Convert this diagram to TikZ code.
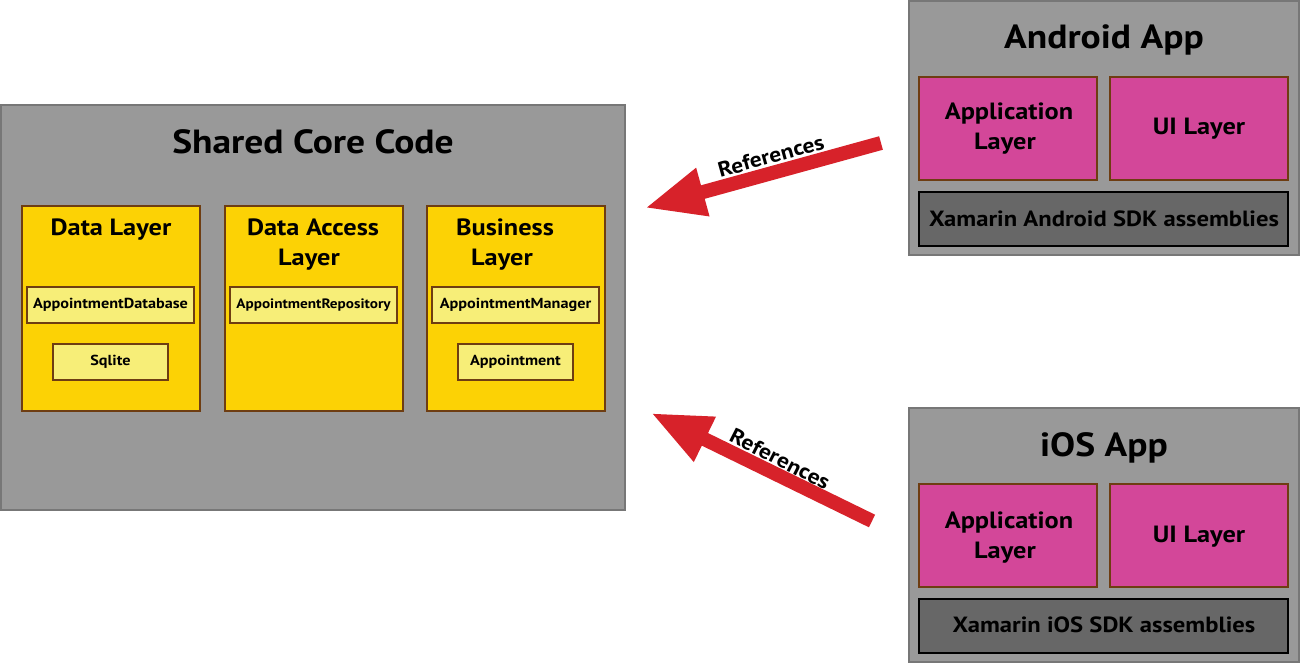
\documentclass[tikz,border=0pt]{standalone}
\usepackage{fontspec}
\setmainfont{PT Sans}[FakeStretch=1.12]
\usetikzlibrary{arrows.meta}
\definecolor{bggray}{HTML}{999999}
\definecolor{edgegray}{HTML}{777777}
\definecolor{ylw}{HTML}{FCD205}
\definecolor{lylw}{HTML}{F7EE78}
\definecolor{brn}{HTML}{6E3D12}
\definecolor{pnk}{HTML}{D34799}
\definecolor{dgray}{HTML}{676767}
\definecolor{arrred}{HTML}{D7222A}
\begin{document}
\begin{tikzpicture}[x=1pt,y=-1pt,
  every node/.style={inner sep=0pt, outer sep=0pt, font=\bfseries},
  panel/.style={draw=edgegray, line width=2pt, fill=bggray, anchor=north west},
  layerbox/.style={draw=brn, line width=2pt, fill=ylw, anchor=north west, minimum width=178, minimum height=205},
  classbox/.style={draw=brn, line width=2pt, fill=lylw, anchor=north west},
  classtext/.style={anchor=base, font=\bfseries\fontsize{14.5}{16}\selectfont},
  appbox/.style={draw=brn, line width=1.2pt, fill=pnk, anchor=north west, minimum width=178, minimum height=103},
  sdkbox/.style={draw=black, line width=1.5pt, fill=dgray, anchor=north west, minimum width=369, minimum height=54},
  sdktext/.style={anchor=base, font=\bfseries\fontsize{22}{24}\selectfont},
  bigtitle/.style={anchor=base, font=\bfseries\fontsize{33.5}{36}\selectfont},
  midtitle/.style={anchor=base, font=\bfseries\fontsize{23.5}{30}\selectfont},
  reflink/.style={draw=arrred, line width=14pt, -{Triangle[length=60pt,width=46pt]}},
  reflabel/.style={font=\bfseries\fontsize{21}{24}\selectfont}
]
\useasboundingbox (0,0) rectangle (1300,663);
\fill[white] (0,0) rectangle (1300,663);

% Shared core
\node[panel, minimum width=624, minimum height=405] (core) at (1,105) {};
\node[bigtitle] (coretitle) at (313,154) {Shared Core Code};

\node[layerbox] (dl) at (22,206) {};
\node[layerbox] (dal) at (225,206) {};
\node[layerbox] (bl) at (427,206) {};
\node[midtitle] (dlt) at (111,235) {Data Layer};
\node[midtitle] (dalt1) at (313,235) {Data Access};
\node[midtitle] (dalt2) at (309,265) {Layer};
\node[midtitle] (blt1) at (505,235) {Business};
\node[midtitle] (blt2) at (502,265) {Layer};

\node[classbox, minimum width=167, minimum height=36] (adb) at (27,287) {};
\node[classbox, minimum width=115, minimum height=36] (sql) at (53,344) {};
\node[classbox, minimum width=167, minimum height=36] (arep) at (230,287) {};
\node[classbox, minimum width=167, minimum height=36] (amgr) at (432,287) {};
\node[classbox, minimum width=115, minimum height=36] (appt) at (458,344) {};
\node[classtext] at ([yshift=-3.5pt]adb.center) {AppointmentDatabase};
\node[classtext] at ([yshift=-3.5pt]sql.center) {Sqlite};
\node[classtext, font=\bfseries\fontsize{13.6}{16}\selectfont] at ([yshift=-3.5pt]arep.center) {AppointmentRepository};
\node[classtext] at ([yshift=-3.5pt]amgr.center) {AppointmentManager};
\node[classtext] at ([yshift=-3.5pt]appt.center) {Appointment};

% Android
\node[panel, minimum width=390, minimum height=254] (android) at (909,1) {};
\node[bigtitle] (androidtitle) at (1104,49) {Android App};
\node[appbox] (aapp) at (919,77) {};
\node[appbox] (aui) at (1110,77) {};
\node[midtitle] at (1009,120) {Application};
\node[midtitle] at (1005,150) {Layer};
\node[midtitle] at (1199,135) {UI Layer};
\node[sdkbox] (asdk) at (919,192) {};
\node[sdktext] at (1104,226) {Xamarin Android SDK assemblies};

% iOS
\node[panel, minimum width=390, minimum height=254] (ios) at (909,408) {};
\node[bigtitle] (iostitle) at (1104,456) {iOS App};
\node[appbox] (iapp) at (919,484) {};
\node[appbox] (iui) at (1110,484) {};
\node[midtitle] at (1009,528) {Application};
\node[midtitle] at (1005,558) {Layer};
\node[midtitle] at (1199,542) {UI Layer};
\node[sdkbox] (isdk) at (919,599) {};
\node[sdktext] at (1104,632) {Xamarin iOS SDK assemblies};

% Arrows
\coordinate (a1s) at (881,143);
\coordinate (a1e) at (645,208);
\coordinate (a2s) at (872,521);
\coordinate (a2e) at (651,413);
\draw[reflink] (a1s) -- (a1e);
\draw[reflink] (a2s) -- (a2e);
\node[reflabel, rotate=15.5] (l1) at (771,156) {References};
\node[reflabel, rotate=-27] (l2) at (780,459) {References};
\end{tikzpicture}
\end{document}
